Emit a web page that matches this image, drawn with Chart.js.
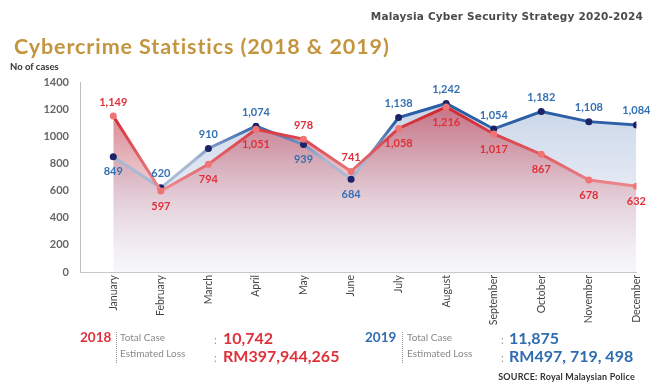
<!DOCTYPE html>
<html>
<head>
<meta charset="utf-8">
<script src="https://cdn.jsdelivr.net/npm/chart.js@4.4.1/dist/chart.umd.min.js"></script>
<style>
  body { margin: 0; background: #fff; }
  #wrap { position: relative; width: 652px; height: 382px; overflow: hidden; font-family: Lato, sans-serif; }
  #wrap canvas { position: absolute; left: 0; top: 0; }
  .t { position: absolute; white-space: nowrap; line-height: 1; }
  .head { right: 9px; top: 10px; font: bold 10.5px "DejaVu Sans", sans-serif; color: #4a4a4a; letter-spacing: 0.2px; }
  .title { left: 14px; top: 36px; font-size: 21.5px; font-weight: bold; color: #c4953f; letter-spacing: 0.9px; }
  .unit { left: 10px; top: 62px; font-size: 9.5px; font-weight: bold; color: #333; }
  .year { font-size: 13.5px; font-weight: bold; }
  .lbl { font-size: 10px; color: #888; }
  .colon { font-size: 11px; color: #999; }
  .big { font-size: 16px; font-weight: bold; }
  .sep { position: absolute; width: 0; height: 31px; border-left: 1px dotted #999; }
  .red { color: #e0303a; }
  .blue { color: #2f6cb0; }
  .src { right: 17px; top: 372px; font-size: 9px; font-weight: bold; color: #333; letter-spacing: 0.2px; }
</style>
</head>
<body>
<div id="wrap">
  <canvas id="chart" width="652" height="382"></canvas>
  <div class="t head">Malaysia Cyber Security Strategy 2020-2024</div>
  <div class="t title">Cybercrime Statistics (2018 &amp; 2019)</div>
  <div class="t unit">No of cases</div>

  <div class="t year red" style="left:80px; top:331px;">2018</div>
  <div class="sep" style="left:116px; top:332px;"></div>
  <div class="t lbl" style="left:120px; top:332px;">Total Case</div>
  <div class="t lbl" style="left:120px; top:348px;">Estimated Loss</div>
  <div class="t colon" style="left:214px; top:334px;">:</div>
  <div class="t colon" style="left:214px; top:352px;">:</div>
  <div class="t big red" style="left:223px; top:330px;">10,742</div>
  <div class="t big red" style="left:223px; top:348px;">RM397,944,265</div>

  <div class="t year blue" style="left:365px; top:331px;">2019</div>
  <div class="sep" style="left:402px; top:332px;"></div>
  <div class="t lbl" style="left:407px; top:332px;">Total Case</div>
  <div class="t lbl" style="left:407px; top:348px;">Estimated Loss</div>
  <div class="t colon" style="left:501px; top:334px;">:</div>
  <div class="t colon" style="left:501px; top:352px;">:</div>
  <div class="t big blue" style="left:509px; top:330px;">11,875</div>
  <div class="t big blue" style="left:509px; top:348px;">RM497, 719, 498</div>

  <div class="t src">SOURCE: Royal Malaysian Police</div>
</div>

<script>
const months = ["January", "February", "March", "April", "May", "June",
                "July", "August", "September", "October", "November", "December"];
const cases2018 = [1149, 597, 794, 1051, 978, 741, 1058, 1216, 1017, 867, 678, 632];
const cases2019 = [849, 620, 910, 1074, 939, 684, 1138, 1242, 1054, 1182, 1108, 1084];
const yTicks = [0, 200, 400, 600, 800, 1000, 1200, 1400];

// which side of the point each value label sits on ('a' above, 'b' below)
const side2018 = ['a', 'b', 'b', 'b', 'a', 'a', 'b', 'b', 'b', 'b', 'b', 'b'];
const side2019 = ['b', 'a', 'a', 'a', 'b', 'b', 'a', 'a', 'a', 'a', 'a', 'a'];

function toPoints(values) {
    return values.map((v, i) => ({ x: i, y: v }));
}

// vertical gradient between two values on the y scale
function valueGradient(chart, hiVal, hiColor, loVal, loColor) {
    const y = chart.scales.y;
    if (!y || !chart.chartArea) return hiColor;
    const g = chart.ctx.createLinearGradient(0, y.getPixelForValue(hiVal), 0, y.getPixelForValue(loVal));
    g.addColorStop(0, hiColor);
    g.addColorStop(1, loColor);
    return g;
}

function areaGradient(chart, stops) {
    const a = chart.chartArea;
    if (!a) return stops[0][1];
    const g = chart.ctx.createLinearGradient(0, a.top, 0, a.bottom);
    stops.forEach(s => g.addColorStop(s[0], s[1]));
    return g;
}

const valueLabels = {
    id: 'valueLabels',
    afterDatasetsDraw(chart) {
        const ctx = chart.ctx;
        ctx.save();
        ctx.font = "bold 11px Lato, sans-serif";
        ctx.textAlign = 'center';
        ctx.textBaseline = 'middle';
        chart.data.datasets.forEach((ds, di) => {
            const meta = chart.getDatasetMeta(di);
            ctx.fillStyle = ds.labelColor;
            meta.data.forEach((pt, i) => {
                const text = ds.data[i].y.toLocaleString('en-US');
                const dy = ds.labelSide[i] == 'b' ? 15 : -14;
                ctx.fillText(text, pt.x, pt.y + dy);
            });
        });
        ctx.restore();
    }
};

const chart = new Chart(document.getElementById('chart'), {
    type: 'line',
    data: {
        datasets: [
            {
                label: '2018',
                data: toPoints(cases2018),
                labelSide: side2018,
                labelColor: '#e0303a',
                borderWidth: 3,
                borderColor: (c) => valueGradient(c.chart, 1150, '#d42a33', 600, '#ec8c8f'),
                backgroundColor: (c) => areaGradient(c.chart, [
                    [0, 'rgba(196,60,78,0.80)'],
                    [0.35, 'rgba(205,100,115,0.55)'],
                    [0.7, 'rgba(225,175,185,0.35)'],
                    [1, 'rgba(240,242,248,0.25)']
                ]),
                fill: 'origin',
                tension: 0,
                pointRadius: 3.5,
                pointHoverRadius: 3.5,
                pointBorderWidth: 0,
                pointBackgroundColor: '#f07474'
            },
            {
                label: '2019',
                data: toPoints(cases2019),
                labelSide: side2019,
                labelColor: '#3470b4',
                borderWidth: 3,
                borderColor: (c) => valueGradient(c.chart, 1100, '#2c5ea6', 820, '#a9b9d4'),
                backgroundColor: (c) => areaGradient(c.chart, [
                    [0, 'rgba(170,190,220,0.75)'],
                    [0.5, 'rgba(200,212,232,0.55)'],
                    [1, 'rgba(235,238,246,0.3)']
                ]),
                fill: 'origin',
                tension: 0,
                pointRadius: 3.5,
                pointHoverRadius: 3.5,
                pointBorderWidth: 0,
                pointBackgroundColor: '#1b2468'
            }
        ]
    },
    options: {
        responsive: false,
        animation: false,
        layout: { padding: { top: 82, right: 14, bottom: 50, left: 0 } },
        plugins: {
            legend: { display: false },
            tooltip: { enabled: false },
            filler: { drawTime: 'beforeDatasetsDraw' }
        },
        scales: {
            x: {
                type: 'linear',
                min: -0.7,
                max: 11,
                grid: { display: false, drawTicks: false },
                border: { display: true, color: '#c8c8c8', width: 1 },
                afterBuildTicks: (axis) => {
                    axis.ticks = months.map((m, i) => ({ value: i }));
                },
                afterFit: (axis) => { axis.height = 60; },
                ticks: {
                    autoSkip: false,
                    minRotation: 90,
                    maxRotation: 90,
                    padding: 3,
                    color: '#444',
                    font: { family: 'Lato', size: 10.5 },
                    callback: (v) => months[v] || ''
                }
            },
            y: {
                min: 0,
                max: 1400,
                grid: { display: false, drawTicks: false },
                border: { display: true, color: '#bdbdbd', dash: [1, 2], width: 1 },
                afterBuildTicks: (axis) => {
                    axis.ticks = yTicks.map(v => ({ value: v }));
                },
                afterFit: (axis) => { axis.width = 80; },
                ticks: {
                    padding: 11,
                    color: '#666',
                    font: { family: 'Lato', size: 11, weight: 'bold' },
                    callback: (v) => String(v)
                }
            }
        }
    },
    plugins: [valueLabels]
});
</script>
</body>
</html>
